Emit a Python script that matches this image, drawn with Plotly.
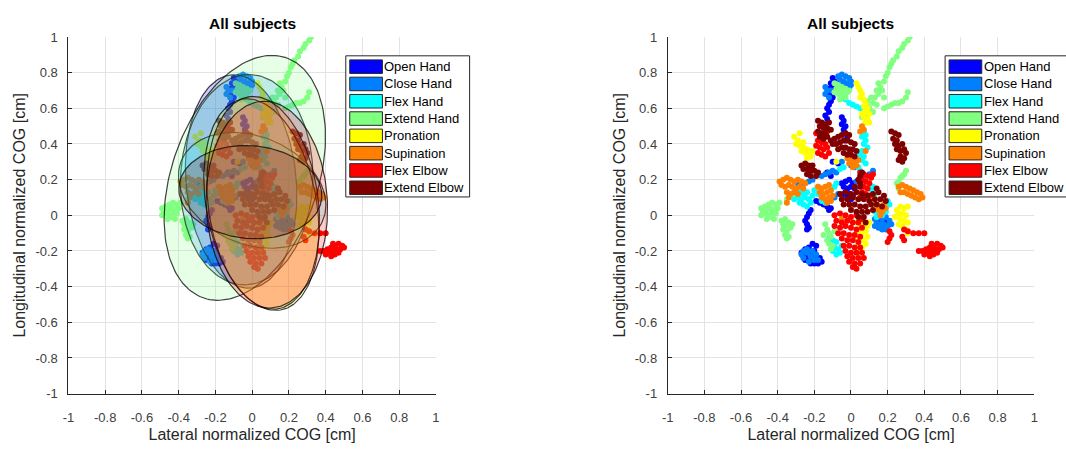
import numpy as np
import plotly.graph_objects as go

labels = ["Open Hand", "Close Hand", "Flex Hand", "Extend Hand",
          "Pronation", "Supination", "Flex Elbow", "Extend Elbow"]
colors = ["#0000FF", "#0080FF", "#00FFFF", "#80FF80",
          "#FFFF00", "#FF8000", "#FF0000", "#800000"]
fill_rgba = ["rgba(0,0,255,0.2)", "rgba(0,128,255,0.2)", "rgba(0,255,255,0.2)", "rgba(128,255,128,0.2)",
             "rgba(255,255,0,0.2)", "rgba(255,128,0,0.2)", "rgba(255,0,0,0.2)", "rgba(128,0,0,0.2)"]

tick_vals = [-1, -0.8, -0.6, -0.4, -0.2, 0, 0.2, 0.4, 0.6, 0.8, 1]
tick_text = ["-1", "-0.8", "-0.6", "-0.4", "-0.2", "0", "0.2", "0.4", "0.6", "0.8", "1"]

# COG samples per task
open_hand_pts = [(-0.10,0.77),(-0.09,0.75),(-0.11,0.74),(-0.10,0.72),(-0.12,0.71),(-0.11,0.69),(-0.12,0.67),(-0.10,0.66),
                 (-0.11,0.64),(-0.12,0.62),(-0.13,0.60),(-0.12,0.58),(-0.14,0.56),(-0.13,0.54),
                 (-0.05,0.55),(-0.04,0.53),(-0.05,0.51),(-0.03,0.50),(-0.04,0.48),(-0.03,0.46),(-0.02,0.44),(-0.03,0.42),
                 (-0.05,0.18),(-0.03,0.19),(-0.01,0.20),(0.01,0.18),(-0.04,0.16),(-0.02,0.15),(0.00,0.16),(0.02,0.15),
                 (-0.03,0.13),(-0.01,0.12),(0.01,0.11),(-0.02,0.10),(0.00,0.09),(-0.04,0.12),
                 (-0.22,0.03),(-0.23,0.01),(-0.24,-0.01),(-0.25,-0.03),(-0.24,-0.05),(-0.23,-0.07),(-0.24,-0.08),
                 (-0.19,0.08),(-0.17,0.07),(-0.15,0.06),(-0.13,0.05),(-0.11,0.04),(-0.16,0.09),(-0.12,0.03),
                 (-0.27,-0.21),(-0.25,-0.19),(-0.23,-0.18),(-0.26,-0.23),(-0.24,-0.22),(-0.22,-0.21),(-0.20,-0.20),
                 (-0.23,-0.25),(-0.21,-0.24),(-0.19,-0.23),(-0.17,-0.24),(-0.22,-0.27),(-0.20,-0.27),(-0.18,-0.27),
                 (-0.25,-0.25),(-0.16,-0.26),(-0.19,-0.17),(-0.21,-0.16),
                 (0.16,-0.04),(0.18,-0.03),(0.17,-0.06),(0.19,-0.05),
                 (-0.10,0.30),(-0.07,0.29),(-0.13,0.24),(-0.11,0.22)]
close_hand_pts = [(-0.07,0.78),(-0.05,0.79),(-0.03,0.78),(-0.01,0.77),(-0.06,0.76),(-0.04,0.75),(-0.02,0.74),(0.00,0.75),
                  (-0.05,0.73),(-0.03,0.72),(-0.01,0.71),(0.00,0.73),(-0.07,0.73),
                  (-0.14,0.72),(-0.13,0.70),(-0.14,0.68),(-0.12,0.66),(-0.11,0.70),
                  (-0.27,-0.22),(-0.26,-0.20),(-0.24,-0.21),(-0.22,-0.23),(-0.21,-0.20),(-0.19,-0.22),(-0.26,-0.24),
                  (-0.20,-0.25),(-0.24,-0.19),(-0.23,-0.26),(-0.18,-0.25),
                  (0.13,-0.02),(0.15,-0.01),(0.17,-0.02),(0.19,-0.01),(0.21,-0.03),(0.14,-0.04),(0.16,-0.05),
                  (0.18,-0.05),(0.20,-0.06),(0.15,-0.07),(0.17,-0.08),(0.19,-0.08),(0.22,-0.05),(0.13,-0.06),
                  (-0.16,0.22),(-0.14,0.23),(-0.12,0.24),(-0.10,0.25),(-0.08,0.24),(0.03,0.19),(0.05,0.21),(0.07,0.22),
                  (-0.29,0.18),(-0.27,0.17),(-0.25,0.18),(-0.23,0.19),(-0.21,0.20),(0.00,0.28),(0.02,0.27),
                  (0.10,0.23),(0.12,0.25),(-0.07,0.12),(-0.09,0.10),(-0.05,0.30)]
flex_hand_pts = [(-0.30,0.12),(-0.28,0.13),(-0.26,0.12),(-0.24,0.13),(-0.29,0.10),(-0.27,0.09),(-0.25,0.10),(-0.23,0.09),
                 (-0.28,0.07),(-0.26,0.06),(-0.24,0.05),(-0.22,0.07),(-0.21,0.11),(-0.31,0.09),
                 (0.07,0.47),(0.08,0.45),(0.06,0.44),(0.08,0.42),(0.07,0.40),(0.09,0.38),(0.06,0.36),(0.05,0.34),
                 (0.07,0.33),(0.06,0.31),(0.08,0.29),(0.04,0.27),(0.05,0.25),
                 (-0.12,-0.13),(-0.10,-0.14),(-0.08,-0.15),(-0.11,-0.16),(-0.09,-0.18),(-0.07,-0.19),(-0.06,-0.21),
                 (-0.08,-0.22),(-0.05,-0.17),(-0.10,-0.20),
                 (0.13,0.02),(0.15,0.01),(0.17,0.00),(0.19,0.02),(0.14,-0.01),(0.13,0.12),(0.11,0.14),(0.12,0.16),
                 (0.20,0.08),(0.21,0.06),
                 (-0.03,0.65),(-0.01,0.63),(0.01,0.62),(0.03,0.61),(0.05,0.60),(0.08,0.55),(0.09,0.53),
                 (-0.11,0.14),(-0.09,0.16),(-0.08,0.18),(-0.14,0.07),(-0.16,0.08),(-0.18,0.12),(-0.20,0.14),
                 (-0.04,0.27),(-0.06,0.26)]
extend_hand_pts = [(-0.49,0.04),(-0.47,0.05),(-0.45,0.06),(-0.43,0.07),(-0.41,0.06),(-0.48,0.02),(-0.46,0.03),(-0.44,0.04),
                   (-0.42,0.03),(-0.40,0.04),(-0.49,0.00),(-0.47,0.01),(-0.45,0.00),(-0.43,0.01),(-0.41,0.01),
                   (-0.46,-0.02),(-0.44,-0.01),(-0.42,-0.02),(-0.39,0.07),
                   (-0.38,-0.03),(-0.37,-0.05),(-0.36,-0.06),(-0.37,-0.08),(-0.35,-0.09),(-0.36,-0.11),(-0.34,-0.12),
                   (-0.35,-0.13),(-0.33,-0.07),(-0.32,-0.05),(-0.36,-0.02),(-0.34,-0.04),
                   (-0.09,0.74),(-0.07,0.73),(-0.05,0.72),(-0.03,0.71),(-0.08,0.71),(-0.06,0.70),(-0.04,0.69),
                   (-0.02,0.69),(-0.07,0.68),(-0.05,0.67),(-0.03,0.66),(-0.09,0.69),(-0.01,0.70),(-0.06,0.65),
                   (0.06,0.55),(0.08,0.58),(0.09,0.61),(0.10,0.60),(0.12,0.63),(0.11,0.66),(0.13,0.66),(0.14,0.62),
                   (0.15,0.68),(0.14,0.70),(0.16,0.72),(0.17,0.70),(0.18,0.75),(0.19,0.78),(0.20,0.80),(0.21,0.83),
                   (0.22,0.85),(0.23,0.87),(0.25,0.89),(0.26,0.92),(0.28,0.94),(0.29,0.96),(0.31,0.98),(0.32,1.00),
                   (0.18,0.66),(0.12,0.58),(0.09,0.64),(0.15,0.74),
                   (0.18,0.60),(0.20,0.61),(0.22,0.62),(0.24,0.63),(0.26,0.63),(0.28,0.64),(0.30,0.66),(0.31,0.69),
                   (0.25,0.18),(0.26,0.19),(0.27,0.21),(0.28,0.22),(0.29,0.23),(0.30,0.25),(0.27,0.17),(0.26,0.15),
                   (-0.14,-0.05),(-0.13,-0.08),(-0.12,-0.10),(-0.11,-0.12),(-0.13,-0.14),(-0.12,-0.16),(-0.10,-0.17),
                   (-0.11,-0.19),(-0.09,-0.09),(-0.15,-0.11),(-0.35,0.09),(-0.32,0.12)]
pronation_pts = [(0.03,0.74),(0.04,0.72),(0.05,0.70),(0.06,0.68),(0.05,0.66),(0.07,0.65),(0.08,0.63),(0.07,0.61),
                 (0.09,0.60),(0.08,0.58),(0.10,0.57),(0.06,0.57),(0.07,0.55),(0.09,0.54),(0.08,0.52),(0.10,0.52),
                 (-0.31,0.44),(-0.29,0.42),(-0.30,0.40),(-0.28,0.39),(-0.26,0.38),(-0.27,0.36),(-0.25,0.35),
                 (-0.23,0.34),(-0.24,0.32),(-0.22,0.33),(-0.26,0.41),(-0.24,0.37),(-0.21,0.36),(-0.28,0.46),
                 (0.25,0.03),(0.27,0.05),(0.29,0.04),(0.31,0.05),(0.26,0.01),(0.28,0.01),(0.30,0.00),(0.27,-0.02),
                 (0.29,-0.03),(0.31,-0.04),(0.26,-0.05),(0.28,-0.06),(0.30,-0.08),(0.31,-0.10),(0.24,-0.01),
                 (0.03,-0.04),(0.05,-0.06),(0.07,-0.05),(0.09,-0.06),(0.04,-0.09),(0.06,-0.10),(0.08,-0.09),
                 (0.10,-0.04),(0.05,-0.13),(0.07,-0.14),(0.09,-0.12),(0.04,-0.17),(0.06,-0.18),(0.08,-0.16),
                 (0.03,-0.20),(0.05,-0.21),(0.02,-0.12),
                 (-0.08,0.30),(0.12,0.10),(-0.18,0.16),(0.13,0.04)]
supination_pts = [(-0.39,0.19),(-0.37,0.20),(-0.35,0.21),(-0.33,0.20),(-0.31,0.19),(-0.29,0.20),(-0.27,0.19),
                  (-0.38,0.17),(-0.36,0.16),(-0.34,0.17),(-0.32,0.16),(-0.30,0.15),(-0.28,0.16),(-0.26,0.15),
                  (-0.35,0.13),(-0.33,0.12),(-0.31,0.13),(-0.29,0.12),(-0.34,0.10),(-0.35,0.07),(-0.25,0.18),
                  (-0.18,0.16),(-0.16,0.15),(-0.14,0.16),(-0.12,0.17),(-0.17,0.13),(-0.15,0.12),(-0.13,0.13),
                  (-0.11,0.14),(-0.16,0.10),(-0.14,0.09),(-0.12,0.10),(-0.10,0.11),(-0.13,0.07),(-0.11,0.08),
                  (0.26,0.16),(0.28,0.17),(0.30,0.16),(0.32,0.15),(0.34,0.14),(0.36,0.13),(0.38,0.12),(0.27,0.13),
                  (0.29,0.13),(0.31,0.12),(0.33,0.11),(0.35,0.10),(0.37,0.09),(0.39,0.10),
                  (0.14,0.06),(0.16,0.05),(0.18,0.06),(0.15,0.03),(0.17,0.02),(0.19,0.04),(0.16,0.00),
                  (-0.02,0.32),(0.00,0.31),(0.02,0.30),(0.04,0.31),(-0.01,0.29),(0.01,0.27),(0.03,0.28),
                  (0.06,0.50),(0.07,0.48),(0.05,0.47),(0.00,0.05),(-0.05,-0.02),(0.08,0.36)]
flex_elbow_pts = [(-0.09,0.00),(-0.06,0.01),(-0.03,0.00),(0.00,-0.01),(0.03,0.00),(0.06,-0.02),
                  (-0.08,-0.03),(-0.05,-0.04),(-0.02,-0.03),(0.01,-0.04),(0.04,-0.04),
                  (-0.09,-0.06),(-0.06,-0.07),(-0.03,-0.06),(0.00,-0.07),(0.03,-0.08),(0.06,-0.07),
                  (-0.07,-0.10),(-0.04,-0.10),(-0.01,-0.11),(0.02,-0.11),(0.05,-0.12),
                  (-0.05,-0.13),(-0.02,-0.14),(0.01,-0.14),(0.04,-0.15),
                  (-0.04,-0.17),(-0.01,-0.17),(0.02,-0.18),(0.05,-0.18),
                  (-0.03,-0.20),(0.00,-0.21),(0.03,-0.21),(0.06,-0.21),
                  (-0.02,-0.23),(0.01,-0.24),(0.04,-0.24),(0.07,-0.24),
                  (-0.01,-0.26),(0.02,-0.27),(0.05,-0.27),(0.01,-0.29),(0.03,-0.30),
                  (-0.19,0.46),(-0.17,0.45),(-0.15,0.44),(-0.18,0.42),(-0.16,0.41),(-0.14,0.40),(-0.19,0.39),
                  (-0.17,0.38),(-0.15,0.37),(-0.13,0.38),(-0.18,0.35),(-0.16,0.34),(-0.14,0.33),(-0.13,0.47),(-0.12,0.35),
                  (0.05,0.24),(0.07,0.23),(0.09,0.22),(0.11,0.21),(0.06,0.20),(0.08,0.19),(0.10,0.18),(0.12,0.23),
                  (0.07,0.16),(0.09,0.15),(0.06,0.13),(0.08,0.12),(0.10,0.11),(0.05,0.10),
                  (0.37,-0.20),(0.39,-0.20),(0.41,-0.19),(0.43,-0.18),(0.45,-0.17),(0.47,-0.16),(0.49,-0.17),
                  (0.40,-0.22),(0.42,-0.21),(0.44,-0.20),(0.46,-0.19),(0.48,-0.19),(0.43,-0.23),(0.45,-0.22),
                  (0.47,-0.21),(0.44,-0.16),(0.50,-0.18),
                  (0.29,-0.08),(0.31,-0.09),(0.34,-0.10),(0.37,-0.10),(0.40,-0.10),(0.28,-0.12),(0.29,-0.14),
                  (0.22,-0.11),(0.21,-0.13),(0.20,-0.15),(0.21,-0.09)]
extend_elbow_pts = [(-0.18,0.53),(-0.16,0.52),(-0.14,0.51),(-0.12,0.52),(-0.17,0.50),(-0.15,0.49),(-0.13,0.49),
                    (-0.18,0.47),(-0.16,0.46),(-0.14,0.46),(-0.17,0.44),(-0.15,0.43),(-0.13,0.44),(-0.11,0.48),
                    (-0.11,0.42),(-0.09,0.43),(-0.07,0.44),(-0.05,0.45),(-0.03,0.46),(-0.01,0.45),(-0.10,0.40),
                    (-0.08,0.40),(-0.06,0.41),(-0.04,0.42),(-0.02,0.42),(0.00,0.41),(0.02,0.40),(-0.07,0.37),
                    (-0.05,0.38),(-0.03,0.38),(-0.01,0.37),(0.01,0.37),(0.03,0.36),(-0.04,0.35),(-0.02,0.34),
                    (0.00,0.34),(0.02,0.33),
                    (-0.27,0.28),(-0.25,0.29),(-0.23,0.28),(-0.21,0.28),(-0.26,0.26),(-0.24,0.26),(-0.22,0.25),
                    (-0.20,0.25),(-0.24,0.23),(-0.22,0.22),(-0.19,0.22),(-0.18,0.24),
                    (0.22,0.47),(0.24,0.46),(0.26,0.45),(0.23,0.43),(0.25,0.42),(0.24,0.40),(0.26,0.39),(0.28,0.40),
                    (0.25,0.37),(0.27,0.36),(0.29,0.37),(0.30,0.35),(0.27,0.33),(0.29,0.32),(0.28,0.30),(0.26,0.31),
                    (-0.06,0.12),(-0.03,0.13),(0.00,0.12),(0.03,0.13),(0.06,0.12),(0.09,0.11),(0.12,0.12),(0.15,0.13),
                    (0.18,0.11),(-0.05,0.09),(-0.02,0.09),(0.01,0.10),(0.04,0.09),(0.07,0.09),(0.10,0.08),(0.13,0.09),
                    (0.16,0.09),(0.19,0.08),(-0.04,0.06),(-0.01,0.06),(0.02,0.06),(0.05,0.05),(0.08,0.05),(0.11,0.06),
                    (0.14,0.06),(0.17,0.05),(0.00,0.03),(0.03,0.02),(0.06,0.02),(0.09,0.02),(0.12,0.03),
                    (0.04,-0.01),(0.07,-0.01),(0.08,-0.04),(0.05,0.16),(0.02,0.16),(0.14,0.15),
                    (0.04,0.20),(0.05,0.22),(0.06,0.24),(0.05,0.18)]

series_pts = [open_hand_pts, close_hand_pts, flex_hand_pts, extend_hand_pts,
              pronation_pts, supination_pts, flex_elbow_pts, extend_elbow_pts]

# Confidence ellipse parameters per task: centre, semi-axes, rotation (deg)
ellipse_cx = [-0.06, -0.03, 0.00, -0.04, 0.05, 0.06, 0.08, -0.01]
ellipse_cy = [0.19, 0.20, 0.14, 0.21, 0.06, 0.07, 0.06, 0.13]
ellipse_a = [0.60, 0.59, 0.42, 0.71, 0.60, 0.60, 0.58, 0.39]
ellipse_b = [0.30, 0.36, 0.30, 0.40, 0.30, 0.30, 0.33, 0.26]
ellipse_angle = [95, 88, -25, 72, 100, 97, 92, -5]

W, H = 1066, 450
left_px = (63, 434)
right_px = (668, 1038)
top_px, bottom_px = 31, 400
FONT = "Liberation Sans, Arial, Helvetica"

fig = go.Figure()

for i in range(8):
    xs = [p[0] for p in series_pts[i]]
    ys = [p[1] for p in series_pts[i]]
    fig.add_trace(go.Scatter(x=xs, y=ys, mode="markers", xaxis="x", yaxis="y",
                             marker=dict(color=colors[i], size=6, line=dict(width=0)),
                             showlegend=False, hoverinfo="skip"))
t = np.linspace(0, 2 * np.pi, 181)
for i in range(8):
    th = np.deg2rad(ellipse_angle[i])
    ex = ellipse_cx[i] + ellipse_a[i] * np.cos(t) * np.cos(th) - ellipse_b[i] * np.sin(t) * np.sin(th)
    ey = ellipse_cy[i] + ellipse_a[i] * np.cos(t) * np.sin(th) + ellipse_b[i] * np.sin(t) * np.cos(th)
    fig.add_trace(go.Scatter(x=ex, y=ey, mode="lines", xaxis="x", yaxis="y", fill="toself",
                             fillcolor=fill_rgba[i], line=dict(color="rgba(0,0,0,0.75)", width=1.2),
                             showlegend=False, hoverinfo="skip"))
for i in range(8):
    xs = [p[0] for p in series_pts[i]]
    ys = [p[1] for p in series_pts[i]]
    fig.add_trace(go.Scatter(x=xs, y=ys, mode="markers", xaxis="x2", yaxis="y2",
                             marker=dict(color=colors[i], size=6, line=dict(width=0)),
                             showlegend=False, hoverinfo="skip"))

axis_common = dict(range=[-1, 1], tickvals=tick_vals, ticktext=tick_text, showgrid=True,
                   gridcolor="#e3e3e3", gridwidth=1, zeroline=False, showline=True,
                   linecolor="#262626", linewidth=1, ticks="inside", ticklen=4, tickcolor="#262626",
                   tickfont=dict(family=FONT, size=13, color="#404040"),
                   fixedrange=True)
title_font = dict(family=FONT, size=16, color="#262626")
ydom = [1 - bottom_px / H, 1 - top_px / H]
fig.update_layout(
    width=W, height=H, margin=dict(l=0, r=0, t=0, b=0),
    paper_bgcolor="white", plot_bgcolor="white", showlegend=False,
    xaxis=dict(domain=[left_px[0] / W, left_px[1] / W], anchor="y", ticklabelstandoff=12,
               title=dict(text="Lateral normalized COG [cm]", standoff=4, font=title_font), **axis_common),
    yaxis=dict(domain=ydom, anchor="x", ticklabelstandoff=7,
               title=dict(text="Longitudinal normalized COG [cm]", standoff=5, font=title_font), **axis_common),
    xaxis2=dict(domain=[right_px[0] / W, right_px[1] / W], anchor="y2", ticklabelstandoff=12,
                title=dict(text="Lateral normalized COG [cm]", standoff=4, font=title_font), **axis_common),
    yaxis2=dict(domain=ydom, anchor="x2", ticklabelstandoff=7,
                title=dict(text="Longitudinal normalized COG [cm]", standoff=5, font=title_font), **axis_common),
)

for (x0, x1) in (left_px, right_px):
    fig.add_annotation(x=(x0 + x1) / 2 / W, y=1 - 17.5 / H, xref="paper", yref="paper",
                       text="<b>All subjects</b>", showarrow=False, xanchor="center", yanchor="middle",
                       font=dict(family=FONT, size=15.5, color="#000000"))

def px2paper(px, py):
    return px / W, 1 - py / H

row_centers = [61.7, 79.6, 97.5, 115.4, 133.3, 151.2, 169.1, 187.0]
for lx in (343, 948):
    x0, y0 = px2paper(lx, 50.5)
    x1, y1 = px2paper(lx + 125, 196.5)
    fig.add_shape(type="rect", xref="paper", yref="paper", x0=x0, y0=y1, x1=x1, y1=y0,
                  line=dict(color="#262626", width=1), fillcolor="white", layer="above")
    for i in range(8):
        cy = row_centers[i]
        px0, py0 = px2paper(lx + 4, cy - 7)
        px1, py1 = px2paper(lx + 37, cy + 7)
        fig.add_shape(type="rect", xref="paper", yref="paper", x0=px0, y0=py1, x1=px1, y1=py0,
                      line=dict(color="#262626", width=1), fillcolor=colors[i], layer="above")
        tx, ty = px2paper(lx + 37, cy)
        fig.add_annotation(x=tx, y=ty, xref="paper", yref="paper", text=labels[i], showarrow=False,
                           xanchor="left", yanchor="middle",
                           font=dict(family=FONT, size=13, color="#000000"))

fig.write_html("out.html")
